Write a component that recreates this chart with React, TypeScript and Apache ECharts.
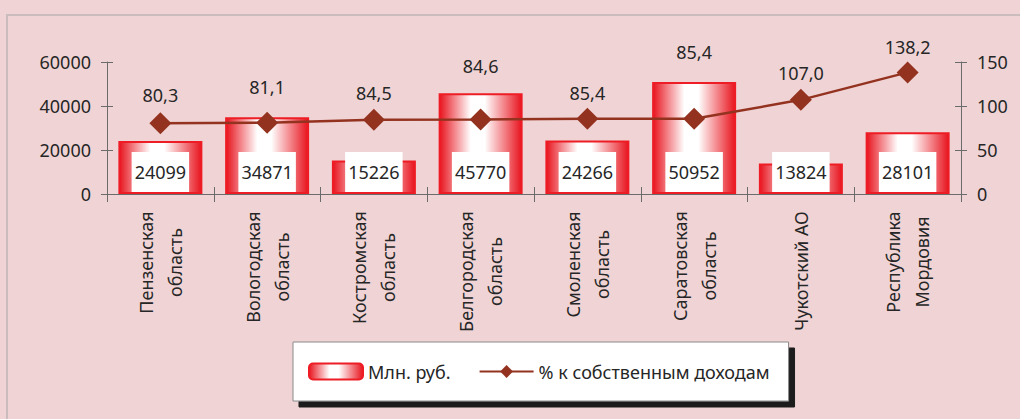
import React, { useEffect, useRef } from "react";
import * as echarts from "echarts";

const categories = [
  "Пензенская\nобласть",
  "Вологодская\nобласть",
  "Костромская\nобласть",
  "Белгородская\nобласть",
  "Смоленская\nобласть",
  "Саратовская\nобласть",
  "Чукотский АО",
  "Республика\nМордовия",
];
const rubValues = [24099, 34871, 15226, 45770, 24266, 50952, 13824, 28101];
const pctValues = [80.3, 81.1, 84.5, 84.6, 85.4, 85.4, 107.0, 138.2];
const leftTicks = { min: 0, max: 60000, interval: 20000 };
const rightTicks = { min: 0, max: 150, interval: 50 };
const seriesNames = ["Млн. руб.", "% к собственным доходам"];

// label placement tweaks (vertical pixel offsets of the percentage labels)
const pctLabelShift = [-3, -11, -2, -29, -1, -42, -2, 0];

const FONT = '"Noto Sans", "DejaVu Sans", sans-serif';
const TEXT = "#262626";
const AXIS = "#6b6b6b";
const RED = "#EE1C25";
const LINE = "#943220";

function measure(text: string, size: number): number {
  const c = document.createElement("canvas");
  const ctx = c.getContext("2d")!;
  ctx.font = `${size}px "Noto Sans"`;
  return ctx.measureText(text).width;
}

export default function App() {
  const ref = useRef<HTMLDivElement>(null);
  useEffect(() => {
    if (!ref.current) return;
    const chart = echarts.init(ref.current, undefined, { renderer: "svg" });

    const rich: Record<string, any> = {};
    categories.forEach((c, i) => {
      const w = Math.max(...c.split("\n").map((l) => measure(l, 18)));
      rich["c" + i] = {
        width: Math.ceil(w) + 2,
        align: "center",
        fontSize: 18,
        lineHeight: 29,
        fontFamily: FONT,
        color: TEXT,
      };
    });

    const grid = { left: 107, right: 59, top: 62, bottom: 225 };

    chart.setOption({
      animation: false,
      backgroundColor: "#F0D4D5",
      textStyle: { fontFamily: FONT },
      graphic: [
        {
          type: "polyline",
          shape: { points: [[7, 419], [7, 15], [1020, 15]] },
          style: { stroke: "#CBBCBD", lineWidth: 2, fill: "none" },
          silent: true,
        },
      ],
      grid: [grid, { ...grid }],
      legend: {
        left: 293,
        top: 342,
        orient: "horizontal",
        backgroundColor: "#FFFFFF",
        borderColor: "#8a8a8a",
        borderWidth: 1,
        shadowColor: "#1c1c1c",
        shadowBlur: 0,
        shadowOffsetX: 6,
        shadowOffsetY: 6,
        padding: [19, 19, 19, 15],
        itemWidth: 54,
        itemHeight: 16,
        itemGap: 28,
        textStyle: { fontSize: 18, color: TEXT, fontFamily: FONT, lineHeight: 21 },
        data: seriesNames,
      },
      xAxis: [
        {
          type: "category",
          gridIndex: 0,
          data: categories,
          boundaryGap: true,
          axisLine: { show: true, lineStyle: { color: AXIS, width: 1 } },
          axisTick: { show: true, length: 8, inside: false, lineStyle: { color: AXIS } },
          axisLabel: {
            rotate: 90,
            margin: 16,
            interval: 0,
            fontSize: 18,
            lineHeight: 29,
            color: TEXT,
            fontFamily: FONT,
            rich,
            formatter: (v: string, idx: number) =>
              v
                .split("\n")
                .map((l) => `{c${idx}|${l}}`)
                .join("\n"),
          },
        },
        {
          type: "category",
          gridIndex: 1,
          data: categories,
          boundaryGap: true,
          axisLine: { show: false },
          axisTick: { show: true, length: 7, inside: true, lineStyle: { color: AXIS } },
          axisLabel: { show: false },
        },
      ],
      yAxis: [
        {
          type: "value",
          gridIndex: 0,
          position: "left",
          ...leftTicks,
          splitLine: { show: false },
          axisLine: { show: true, lineStyle: { color: AXIS } },
          axisTick: { show: true, length: 6, lineStyle: { color: AXIS } },
          axisLabel: {
            margin: 16,
            fontSize: 18,
            color: TEXT,
            fontFamily: FONT,
            formatter: (v: number) => String(v),
          },
        },
        {
          type: "value",
          gridIndex: 0,
          position: "right",
          ...rightTicks,
          splitLine: { show: false },
          axisLine: { show: true, lineStyle: { color: AXIS } },
          axisTick: { show: true, length: 6, lineStyle: { color: AXIS } },
          axisLabel: {
            margin: 16,
            fontSize: 18,
            color: TEXT,
            fontFamily: FONT,
            formatter: (v: number) => String(v),
          },
        },
        {
          type: "value",
          gridIndex: 1,
          position: "left",
          ...leftTicks,
          splitLine: { show: false },
          axisLine: { show: false },
          axisTick: { show: true, inside: true, length: 6, lineStyle: { color: AXIS } },
          axisLabel: { show: false },
        },
        {
          type: "value",
          gridIndex: 1,
          position: "right",
          ...rightTicks,
          splitLine: { show: false },
          axisLine: { show: false },
          axisTick: { show: true, inside: true, length: 6, lineStyle: { color: AXIS } },
          axisLabel: { show: false },
        },
      ],
      series: [
        {
          name: seriesNames[0],
          type: "bar",
          xAxisIndex: 0,
          yAxisIndex: 0,
          data: rubValues,
          barWidth: 84,
          itemStyle: {
            color: {
              type: "linear",
              x: 0,
              y: 0,
              x2: 1,
              y2: 0,
              colorStops: [
                { offset: 0, color: "#E8141E" },
                { offset: 0.38, color: "#FFFFFF" },
                { offset: 0.55, color: "#FFFFFF" },
                { offset: 1, color: "#E8141E" },
              ],
            },
            borderColor: RED,
            borderWidth: 2,
          },
          label: {
            show: true,
            position: "insideBottom",
            distance: 2,
            backgroundColor: "#FFFFFF",
            padding: [11, 3, 11, 3],
            fontSize: 18,
            lineHeight: 18,
            color: TEXT,
            fontFamily: FONT,
          },
          z: 2,
        },
        {
          name: seriesNames[1],
          type: "line",
          xAxisIndex: 0,
          yAxisIndex: 1,
          data: pctValues.map((v, i) => ({
            value: v,
            label: { offset: [0, pctLabelShift[i]] },
          })),
          symbol: "diamond",
          symbolSize: 22,
          lineStyle: { color: LINE, width: 2.5 },
          itemStyle: { color: LINE },
          label: {
            show: true,
            position: "top",
            distance: 5,
            fontSize: 18,
            color: TEXT,
            fontFamily: FONT,
            formatter: (p: any) => Number(p.value).toFixed(1).replace(".", ","),
          },
          z: 3,
        },
      ],
    });
    return () => chart.dispose();
  }, []);
  return (
    <div
      ref={ref}
      style={{ position: "fixed", left: 0, top: 0, width: 1020, height: 419 }}
    />
  );
}
